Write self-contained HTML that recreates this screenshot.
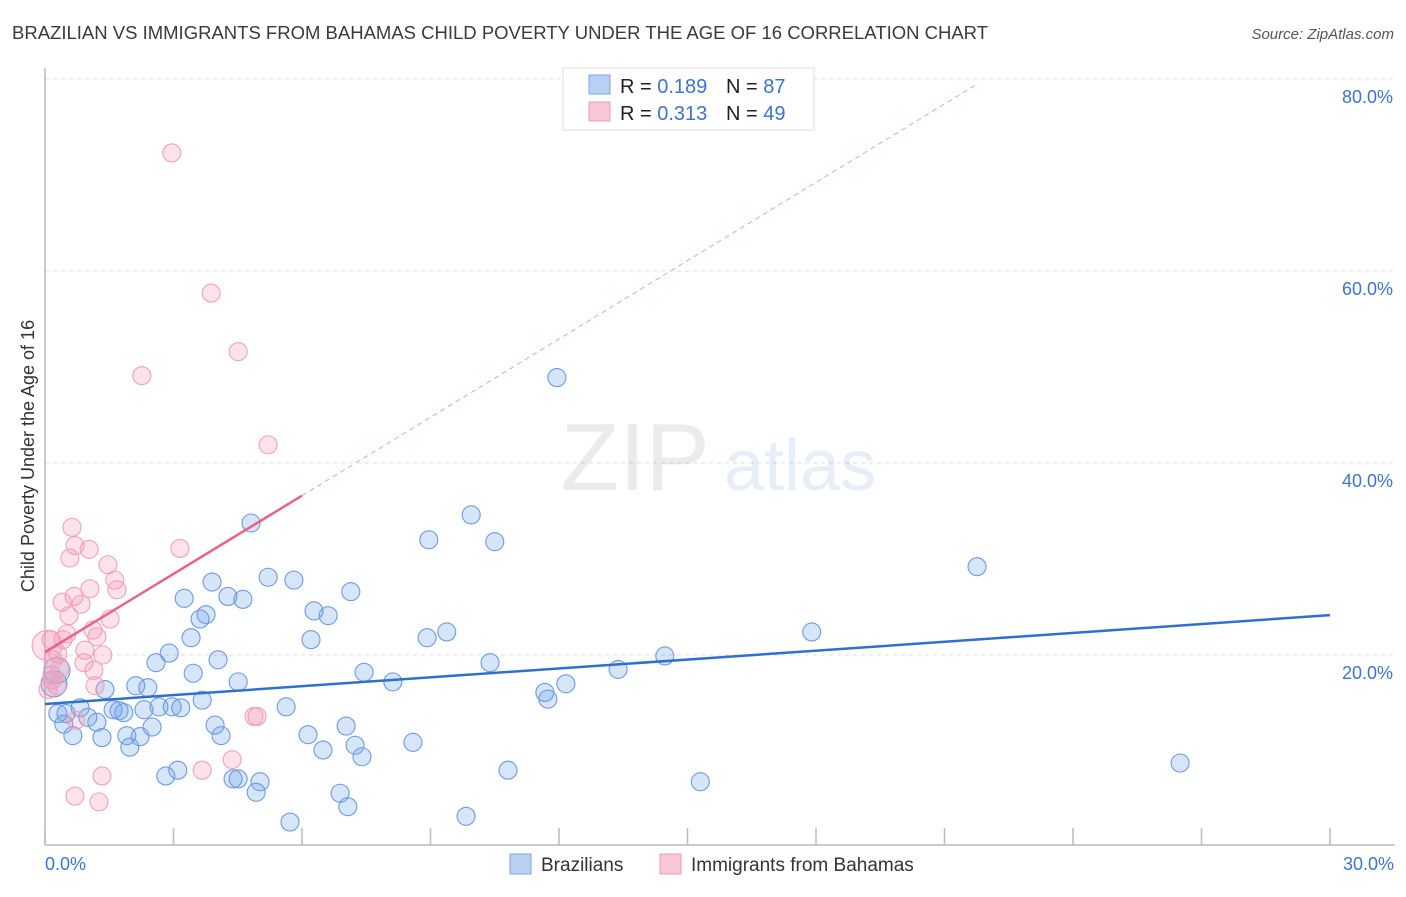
<!DOCTYPE html>
<html><head><meta charset="utf-8"><style>
body{margin:0;background:#fff;font-family:"Liberation Sans",sans-serif;}
svg text{font-family:"Liberation Sans",sans-serif;}
</style></head><body>
<svg id="chart" width="1406" height="892" viewBox="0 0 1406 892" xmlns="http://www.w3.org/2000/svg">
<text x="12" y="39" font-size="18" fill="#3a3a3a" textLength="976" lengthAdjust="spacingAndGlyphs">BRAZILIAN VS IMMIGRANTS FROM BAHAMAS CHILD POVERTY UNDER THE AGE OF 16 CORRELATION CHART</text>
<text x="1394" y="39" font-size="15" fill="#555" font-style="italic" text-anchor="end">Source: ZipAtlas.com</text>
<g id="grid"></g>
<g opacity="0.16">
<text x="635" y="490" font-size="96" font-family="Liberation Serif" fill="#888" text-anchor="middle">ZIP</text>
<text x="800" y="490" font-size="72" fill="#6b9ae0" text-anchor="middle">atlas</text>
</g>
<line x1="45" y1="68" x2="45" y2="845" stroke="#bbb" stroke-width="1.5"/>
<line x1="45" y1="845" x2="1395" y2="845" stroke="#bbb" stroke-width="1.5"/>
<g id="xticks"></g>
<g id="ylabels"></g>
<text x="45" y="870" font-size="18" fill="#3b74d0">0.0%</text>
<text x="1394" y="870" font-size="18" fill="#3b74d0" text-anchor="end">30.0%</text>
<text transform="translate(34,456) rotate(-90)" font-size="18" fill="#333" text-anchor="middle">Child Poverty Under the Age of 16</text>
<g id="pts"></g>
<g id="trends"></g>
<g>
<rect x="563" y="68" width="251" height="62" fill="#fff" stroke="#ddd"/>
<rect x="589" y="75" width="21" height="19" fill="#b7d0f3" stroke="#7fa6e0"/>
<rect x="589" y="102" width="21" height="19" fill="#f9c6d5" stroke="#ec9bb4"/>
<text x="620" y="93" font-size="20" fill="#222">R = <tspan fill="#3b74d0">0.189</tspan><tspan x="726">N = </tspan><tspan fill="#3b74d0">87</tspan></text>
<text x="620" y="120" font-size="20" fill="#222">R = <tspan fill="#3b74d0">0.313</tspan><tspan x="726">N = </tspan><tspan fill="#3b74d0">49</tspan></text>
</g>
<g>
<rect x="510" y="854" width="21" height="20" fill="#b7d0f3" stroke="#7fa6e0"/>
<text x="541" y="871" font-size="19" fill="#333">Brazilians</text>
<rect x="660" y="854" width="21" height="20" fill="#f9c6d5" stroke="#ec9bb4"/>
<text x="691" y="871" font-size="19" fill="#333">Immigrants from Bahamas</text>
</g>
</svg>
<script>
const yTicks=[20,40,60,80];
const yTickLabels=["20.0%","40.0%","60.0%","80.0%"];
const xTickValues=[0,3,6,9,12,15,18,21,24,27,30];
const blueX=[11.95,9.95,4.81,8.96,10.5,21.76,5.21,5.81,3.9,7.14,3.25,4.27,4.62,3.76,6.28,6.61,3.62,17.9,9.38,8.92,3.41,6.21,2.9,14.47,2.59,4.04,10.39,13.38,3.46,7.45,8.12,4.51,12.16,11.67,11.74,2.12,2.4,1.4,3.67,5.63,2.97,3.17,2.66,2.31,1.59,1.84,1.73,0.82,0.3,0.49,1.0,1.21,0.44,3.97,7.03,2.5,1.91,2.22,0.65,1.33,4.11,6.14,7.24,8.59,1.98,6.49,7.4,10.81,26.5,3.1,2.82,4.39,4.51,5.02,15.3,4.93,6.89,7.07,9.83,5.72,0.21,0.28];
const blueY=[48.9,34.6,33.75,32.0,31.8,29.2,28.1,27.8,27.6,26.6,25.9,26.1,25.8,24.2,24.6,24.1,23.75,22.4,22.4,21.8,21.8,21.6,20.2,19.9,19.2,19.5,19.2,18.5,18.1,18.2,17.2,17.2,17.0,16.1,15.4,16.8,16.6,16.4,15.3,14.6,14.6,14.5,14.6,14.3,14.3,14.0,14.2,14.5,13.9,13.9,13.5,13.0,12.8,12.7,12.6,12.5,11.6,11.5,11.6,11.4,11.6,11.7,10.6,10.9,10.4,10.1,9.4,8.0,8.75,8.0,7.4,7.1,7.1,6.8,6.8,5.7,5.6,4.2,3.2,2.6,17.0,18.4];
const pinkX=[2.96,3.88,4.51,2.26,5.21,0.63,3.15,1.03,0.7,0.58,1.47,1.63,1.68,1.05,0.68,0.4,0.84,0.56,1.52,1.12,0.51,1.21,0.42,0.14,0.93,1.35,0.3,0.05,0.91,1.14,0.35,0.16,1.17,0.28,0.72,4.95,4.88,4.37,3.67,1.33,0.7,1.26,0.16,0.19,0.07];
const pinkY=[72.3,57.7,51.6,49.1,41.9,33.3,31.1,31.0,31.4,30.1,29.4,27.8,26.8,26.9,26.1,25.5,25.3,24.1,23.75,22.6,22.2,21.9,21.6,21.6,20.5,20.0,20.1,21.0,19.2,18.4,18.6,17.9,16.8,16.8,13.2,13.6,13.6,9.1,8.0,7.4,5.3,4.7,17.4,19.5,16.4];
const blueTrend=[14.9,24.15];
const pinkTrend=[20.3,36.6,79.3];
const pinkTrendX=[0,6,21.7];
const NS="http://www.w3.org/2000/svg";
const xs=v=>45+v*1285/30;
const ys=v=>847-v*9.6;
function mk(tag,attrs,parent){const e=document.createElementNS(NS,tag);for(const k in attrs)e.setAttribute(k,attrs[k]);parent.appendChild(e);return e;}
const grid=document.getElementById('grid'),yl=document.getElementById('ylabels'),xt=document.getElementById('xticks'),pts=document.getElementById('pts'),tr=document.getElementById('trends');
yTicks.forEach((t,i)=>{
 const l=mk('line',{x1:45,x2:1395,y1:ys(t),y2:ys(t),stroke:'#ddd','stroke-dasharray':'4,4'},grid);
 
 
 const tx=mk('text',{x:1393,y:ys(t)+24,'font-size':18,fill:'#3b74d0','text-anchor':'end'},yl);
 tx.textContent=yTickLabels[i];
 
 
});
xTickValues.forEach(v=>{
 const l=mk('line',{x1:xs(v),x2:xs(v),y1:828,y2:845,stroke:'#bbb','stroke-width':1.5},xt);
 
 
});
blueX.forEach((x,i)=>{
 const c=mk('circle',{cx:xs(x),cy:ys(blueY[i]),r:i>=80?13:9,fill:'rgba(110,160,230,0.28)',stroke:'#6b9be0','stroke-width':1.1},pts);
 
 
});
pinkX.forEach((x,i)=>{
 const c=mk('circle',{cx:xs(x),cy:ys(pinkY[i]),r:i===27?15:9,fill:'rgba(244,150,180,0.28)',stroke:'#f0a0bb','stroke-width':1.1},pts);
 
 
});
const b=mk('line',{x1:xs(0),y1:ys(blueTrend[0]),x2:xs(30),y2:ys(blueTrend[1]),stroke:'#2f6fd0','stroke-width':2.5},tr);


const p=mk('line',{x1:xs(pinkTrendX[0]),y1:ys(pinkTrend[0]),x2:xs(pinkTrendX[1]),y2:ys(pinkTrend[1]),stroke:'#e8628e','stroke-width':2.5},tr);


const pd=mk('line',{x1:xs(pinkTrendX[1]),y1:ys(pinkTrend[1]),x2:xs(pinkTrendX[2]),y2:ys(pinkTrend[2]),stroke:'#eaa0b8','stroke-width':1,'stroke-dasharray':'5,4'},tr);


</script>
</body></html>
